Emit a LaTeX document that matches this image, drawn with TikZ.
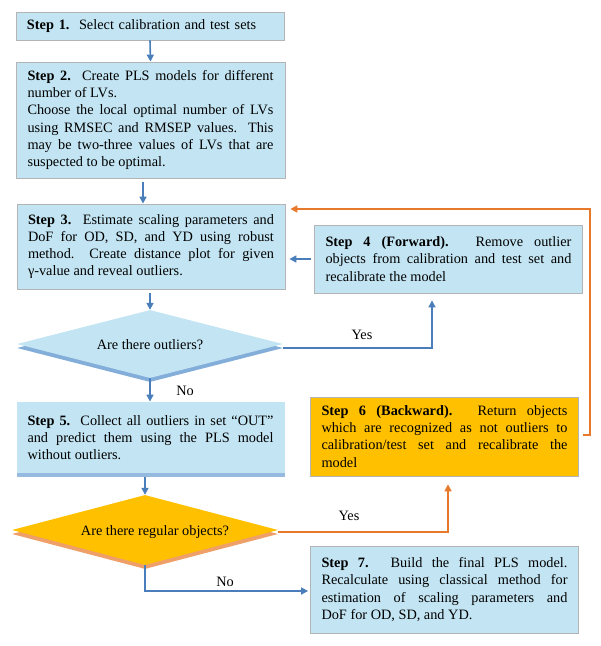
\documentclass[tikz,border=0pt]{standalone}
\usepackage{fontspec}
\setmainfont{Liberation Serif}
\usetikzlibrary{arrows.meta,shapes.geometric,shadows,calc}
\definecolor{boxblue}{HTML}{C3E5F3}
\definecolor{boxline}{HTML}{B4B4B4}
\definecolor{arrblue}{HTML}{4A7EBB}
\definecolor{arrorange}{HTML}{E8782A}
\definecolor{boxorange}{HTML}{FFC000}
\definecolor{shblue}{HTML}{4F8BC9}
\definecolor{shorange}{HTML}{E8782A}
\hyphenpenalty=10000
\exhyphenpenalty=10000
\begin{document}
\begin{tikzpicture}[x=1pt,y=-1pt,
  every node/.style={font=\fontsize{14.3}{17.2}\selectfont},
  stepbox/.style={draw=boxline,line width=0.8pt,fill=boxblue,inner xsep=11pt,inner ysep=4pt,
     text width=#1,align=justify},
  stepbox/.default=246pt,
  decision/.style={diamond,fill=boxblue,inner sep=0pt,aspect=3.9},
  barrow/.style={draw=arrblue,line width=1.6pt,-{Triangle[width=7pt,length=7pt]}},
  oarrow/.style={draw=arrorange,line width=1.6pt,-{Triangle[width=7pt,length=7pt]}},
  lbl/.style={inner sep=0pt}
]
\useasboundingbox (0,0) rectangle (601,646);

\node[stepbox=246pt,align=left,minimum width=268pt,minimum height=28pt] (s1) at (150,26)
  {\textbf{Step 1.}\ \ Select calibration and test sets};

\node[stepbox,minimum width=269pt,minimum height=116pt] (s2) at (150.5,120)
  {\textbf{Step 2.}\ \ Create PLS models for different number of LVs.\\
   Choose the local optimal number of LVs using RMSEC and RMSEP values. This may be two-three values of LVs that are suspected to be optimal.};

\node[stepbox,minimum width=268pt,minimum height=85pt] (s3) at (151,246.5)
  {\textbf{Step 3.}\ \ Estimate scaling parameters and DoF for OD, SD, and YD using robust method.\ \ Create distance plot for given γ-value and reveal outliers.};

\node[decision,minimum width=266pt,minimum height=68pt,
  drop shadow={shadow xshift=0pt,shadow yshift=-4pt,fill=shblue,opacity=0.7}] (d1) at (150,344) {};
\node[lbl] (d1t) at (150,345) {Are there outliers?};

\node[stepbox,minimum width=267pt,minimum height=68pt] (s4) at (448.5,259)
  {\textbf{Step 4 (Forward).} Remove outlier\linebreak objects from calibration and test set and recalibrate the model};

\node[stepbox,draw=none,minimum width=267pt,minimum height=71pt,
  drop shadow={shadow xshift=0pt,shadow yshift=-4pt,fill=shblue,opacity=0.6}] (s5) at (150.5,437.5)
  {\textbf{Step 5.}\ \ Collect all outliers in set “OUT” and predict them using the PLS model without outliers.};

\node[decision,fill=boxorange,minimum width=266pt,minimum height=70pt,
  drop shadow={shadow xshift=0pt,shadow yshift=-4pt,fill=shorange,opacity=0.7}] (d2) at (145,530) {};
\node[lbl] (d2t) at (155,532) {Are there regular objects?};

\node[stepbox,fill=boxorange,minimum width=265pt,minimum height=79pt] (s6) at (444.5,436.5)
  {\textbf{Step 6 (Backward).} Return objects which are recognized as not outliers to calibration/test set and recalibrate the model};

\node[stepbox,minimum width=265pt,minimum height=87pt] (s7) at (444.5,589.5)
  {\textbf{Step 7.} Build the final PLS model.\linebreak Recalculate using classical method for estimation of scaling parameters and\linebreak DoF for OD, SD, and YD.};

% connectors
\draw[barrow] (s1.south) -- (s2.north);
\draw[barrow] ([xshift=-7.5pt,yshift=-4pt]s2.south) -- ([xshift=-7.5pt]s2.south |- s3.north);
\draw[barrow] ([yshift=-4pt]s3.south -| d1.north) -- (d1.north);
\draw[barrow] (d1.south) -- (d1.south |- s5.north);
\draw[barrow] ([yshift=-4pt]d1.east) -| ([xshift=-16.5pt,yshift=-7pt]s4.south);
\draw[barrow] ([xshift=-3pt]s4.west) -- ([xshift=4pt]s4.west -| s3.east);
\coordinate (oc) at (590,209);
\draw[oarrow] ([xshift=4pt,yshift=1.5pt]s6.east) -| (oc) -- ([xshift=5pt]oc -| s3.east);
\draw[barrow] ([yshift=-4pt]s5.south -| d2.north) -- (d2.north);
\draw[oarrow] ([yshift=-2pt]d2.east) -| ([xshift=3.5pt,yshift=-8pt]s6.south);
\draw[barrow] (d2.south) |- ([xshift=-2pt,yshift=-1.5pt]s7.west);

% labels
\node[lbl] (yes1) at (362,335) {Yes};
\node[lbl] (no1) at (185,391) {No};
\node[lbl] (yes2) at (349,516) {Yes};
\node[lbl] (no2) at (225,582) {No};
\end{tikzpicture}
\end{document}
